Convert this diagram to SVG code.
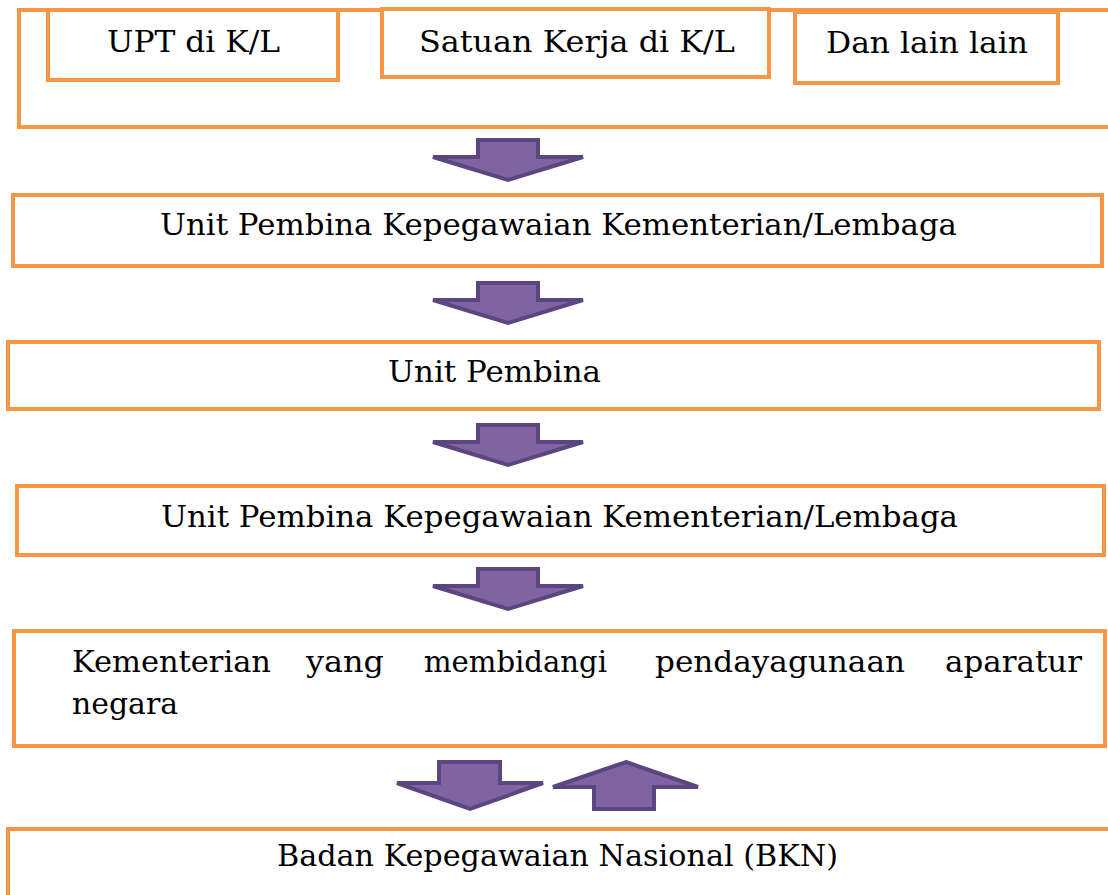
<svg xmlns="http://www.w3.org/2000/svg" width="1108" height="895" viewBox="0 0 1108 895">
<style>
.box{fill:none;stroke:#F79646;stroke-width:4}
.wbox{fill:#fff;stroke:#F79646;stroke-width:4}
.arr{fill:#8064A2;stroke:#5C4680;stroke-width:4;stroke-linejoin:miter}
text{font-family:"DejaVu Serif","Liberation Serif",serif;font-size:30px;fill:#000}
</style>
<rect width="1108" height="895" fill="#fff"/>
<g id="group-top">
<rect class="box" x="19" y="10" width="1110" height="117"/>
</g>
<g id="node-upt">
<rect class="wbox" x="48" y="10" width="290" height="70"/>
<text x="107" y="52" textLength="173" lengthAdjust="spacingAndGlyphs">UPT di K/L</text>
</g>
<g id="node-satuan">
<rect class="wbox" x="382" y="9" width="387" height="68"/>
<text x="419" y="52" textLength="316" lengthAdjust="spacingAndGlyphs">Satuan Kerja di K/L</text>
</g>
<g id="node-dan">
<rect class="wbox" x="795" y="12" width="263" height="71"/>
<text x="826" y="53" textLength="202" lengthAdjust="spacingAndGlyphs">Dan lain lain</text>
</g>
<g id="node-upk1">
<rect class="box" x="13" y="195" width="1089" height="71"/>
<text x="160" y="235" textLength="797" lengthAdjust="spacingAndGlyphs">Unit Pembina Kepegawaian Kementerian/Lembaga</text>
</g>
<g id="node-up">
<rect class="box" x="8" y="342" width="1091" height="67"/>
<text x="388" y="382" textLength="213" lengthAdjust="spacingAndGlyphs">Unit Pembina</text>
</g>
<g id="node-upk2">
<rect class="box" x="17" y="486" width="1087" height="69"/>
<text x="161" y="527" textLength="797" lengthAdjust="spacingAndGlyphs">Unit Pembina Kepegawaian Kementerian/Lembaga</text>
</g>
<g id="node-kementerian">
<rect class="box" x="14" y="631" width="1091" height="115"/>
<text x="72" y="672" textLength="199" lengthAdjust="spacingAndGlyphs">Kementerian</text>
<text x="306" y="672" textLength="78" lengthAdjust="spacingAndGlyphs">yang</text>
<text x="424" y="672" textLength="183" lengthAdjust="spacingAndGlyphs">membidangi</text>
<text x="655" y="672" textLength="250" lengthAdjust="spacingAndGlyphs">pendayagunaan</text>
<text x="945" y="672" textLength="137" lengthAdjust="spacingAndGlyphs">aparatur</text>
<text x="72" y="714" textLength="106" lengthAdjust="spacingAndGlyphs">negara</text>
</g>
<g id="node-bkn">
<rect class="box" x="8" y="829" width="1110" height="80"/>
<text x="277" y="866" textLength="561" lengthAdjust="spacingAndGlyphs">Badan Kepegawaian Nasional (BKN)</text>
</g>
<g id="connectors">
<polygon class="arr" points="478,140 538,140 538,157 583,157 508,180 433,157 478,157"/>
<polygon class="arr" points="478,283 538,283 538,300 583,300 508,323 433,300 478,300"/>
<polygon class="arr" points="478,425 538,425 538,442 583,442 508,465 433,442 478,442"/>
<polygon class="arr" points="478,569 538,569 538,586 583,586 508,609 433,586 478,586"/>
<polygon class="arr" points="439,762 500,762 500,783 543,783 470,809 397,783 439,783"/>
<polygon class="arr" points="626,762 698,787 654,787 654,809 594,809 594,787 553,787"/>
</g>
</svg>
